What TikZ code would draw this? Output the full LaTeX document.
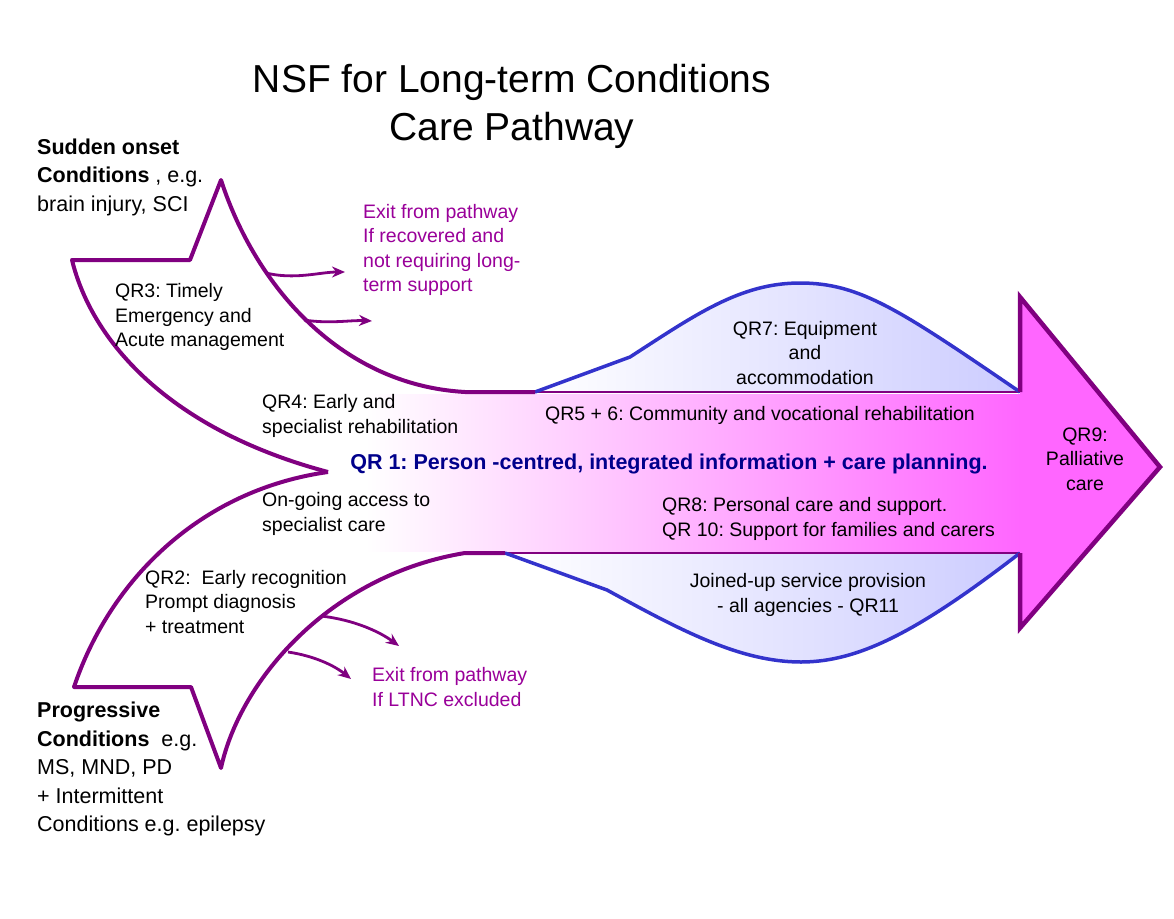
\documentclass[tikz,border=0pt]{standalone}
\usepackage{fontspec}
\setmainfont{Liberation Sans}
\usetikzlibrary{arrows.meta}

\definecolor{pathpurple}{RGB}{128,0,128}
\definecolor{exitpurple}{RGB}{153,0,153}
\definecolor{humpblue}{RGB}{51,51,204}
\definecolor{humpfill}{RGB}{204,204,255}
\definecolor{arrowpink}{RGB}{255,102,255}
\definecolor{plannavy}{RGB}{0,0,139}

\begin{document}
\frenchspacing
\begin{tikzpicture}
    [x=1pt, y=-1pt,
     every node/.style={inner sep=0pt, font=\fontsize{19.5}{24.5}\selectfont},
     labeltext/.style={anchor=west, align=left},
     sidetext/.style={anchor=west, align=left, font=\fontsize{21.5}{28.5}\selectfont},
     exittext/.style={anchor=west, align=left, text=exitpurple},
     armline/.style={draw=pathpurple, line width=4pt, line join=round},
     edgeline/.style={draw=pathpurple, line width=2.2pt},
     headline/.style={draw=pathpurple, line width=4.5pt},
     humpline/.style={draw=humpblue, line width=3.5pt, line join=round},
     exitarrow/.style={draw=pathpurple, line width=2.8pt, -{Stealth[length=13pt, width=11pt]}}]

    \useasboundingbox (0,0) rectangle (1174,918);

    \fill[left color=white, right color=humpfill] (535,392) -- (630,357) .. controls (695,315) and (740,283) .. (800,283) .. controls (860,283) and (900,310) .. (1020,392) -- cycle;
    \fill[left color=white, right color=humpfill] (505,553) -- (607,590) .. controls (680,630) and (740,662) .. (801,662) .. controls (860,662) and (920,630) .. (1020,553) -- cycle;
    \fill[left color=white, right color=arrowpink] (365,394) rectangle (1021,551);
    \fill[arrowpink] (1020,297) -- (1160,467) -- (1020,628) -- cycle;

    \draw[edgeline] (535,392) -- (1020,392);
    \draw[edgeline] (505,553) -- (1020,553);
    \draw[humpline] (535,392) -- (630,357) .. controls (695,315) and (740,283) .. (800,283) .. controls (860,283) and (900,310) .. (1020,392);
    \draw[humpline] (505,553) -- (607,590) .. controls (680,630) and (740,662) .. (801,662) .. controls (860,662) and (920,630) .. (1020,553);
    \draw[headline] (1020,392) -- (1020,297) -- (1160,467) -- (1020,628) -- (1020,553);

    \coordinate (notch) at (328,472);
    \draw[armline] (notch) .. controls (170,430) and (92,342) .. (72,260) -- (190,260) -- (221,180) .. controls (255,285) and (340,385) .. (465,392) -- (535,392);
    \draw[armline] (notch) .. controls (200,490) and (110,580) .. (74,687) -- (191,687) -- (221,768) .. controls (240,680) and (330,575) .. (465,553) -- (505,553);

    \coordinate (recovA) at (266,273);
    \coordinate (recovB) at (304,320);
    \coordinate (recovA end) at (345,272);
    \coordinate (recovB end) at (372,321);
    \coordinate (exclA) at (321,616);
    \coordinate (exclB) at (288,652);
    \coordinate (exclA end) at (399,646);
    \coordinate (exclB end) at (351,679);
    \draw[exitarrow] (recovA) .. controls (295,280) and (320,272) .. (recovA end);
    \draw[exitarrow] (recovB) .. controls (330,324) and (350,320) .. (recovB end);
    \draw[exitarrow] (exclA) .. controls (355,620) and (380,632) .. (exclA end);
    \draw[exitarrow] (exclB) .. controls (315,656) and (335,666) .. (exclB end);

    \node (title) at (512,106) [align=center, font=\fontsize{39}{48}\selectfont] {NSF for Long-term Conditions\\Care Pathway};

    \node (sudden) at (37,177) [sidetext] {\textbf{Sudden onset}\\\textbf{Conditions} , e.g.\\brain injury, SCI};
    \node (progressive) at (37,769) [sidetext] {\textbf{Progressive}\\\textbf{Conditions}~ e.g.\\MS, MND, PD\\+ Intermittent\\Conditions e.g. epilepsy};

    \node (qr3) at (115,317) [labeltext] {QR3: Timely\\Emergency and\\Acute management};
    \node (qr4) at (262,416) [labeltext] {QR4: Early and\\specialist rehabilitation};
    \node (ongoing) at (262,514) [labeltext] {On-going access to\\specialist care};
    \node (qr2) at (145,602) [labeltext] {QR2:\ \ Early recognition\\Prompt diagnosis\\+ treatment};

    \node (recovered) at (363,250) [exittext] {Exit from pathway\\If recovered and\\not requiring long-\\term support};
    \node (excluded) at (372,687) [exittext] {Exit from pathway\\If LTNC excluded};

    \node (qr1) at (669,464) [text=plannavy, font=\fontsize{21.5}{26}\selectfont\bfseries] {QR 1: Person -centred, integrated information + care planning.};
    \node (qr56) at (760,415) {QR5 + 6: Community and vocational rehabilitation};
    \node (qr7) at (805,353) [align=center] {QR7: Equipment\\and\\accommodation};
    \node (qr8) at (662,519) [labeltext] {QR8: Personal care and support.\\QR 10: Support for families and carers};
    \node (qr11) at (808,595) [align=center] {Joined-up service provision\\- all agencies - QR11};
    \node (qr9) at (1085,459) [align=center] {QR9:\\Palliative\\care};
\end{tikzpicture}
\end{document}
